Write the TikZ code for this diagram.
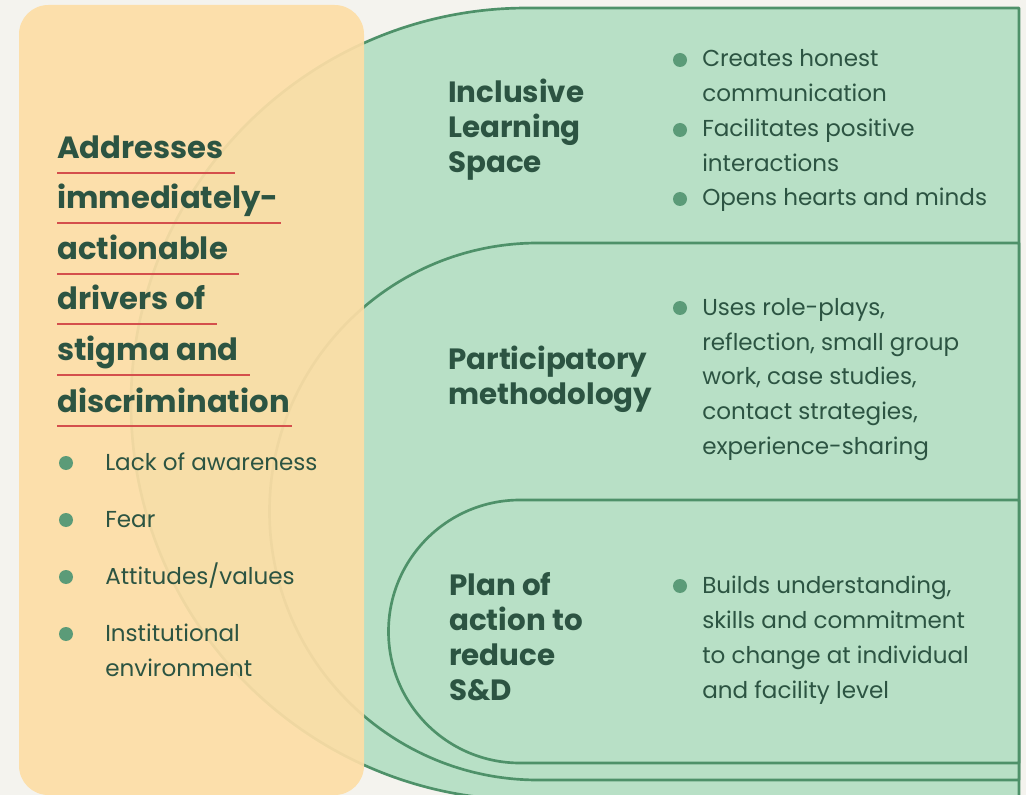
\documentclass[tikz,border=0pt]{standalone}
\usepackage{fontspec}
\setmainfont{Poppins}
\usetikzlibrary{positioning}
\definecolor{paper}{HTML}{F4F3EE}
\definecolor{sand}{HTML}{FDDEA6}
\definecolor{mint}{HTML}{B8E0C6}
\definecolor{leaf}{HTML}{4E9169}
\definecolor{leafdot}{HTML}{5B9B78}
\definecolor{pine}{HTML}{2C5442}
\definecolor{rule}{HTML}{D44F4C}

\begin{document}
\begin{tikzpicture}[x=0.75pt, y=-0.75pt,
  band/.style={fill=mint, draw=leaf, line width=2pt, line join=round},
  title/.style={font=\fontsize{23}{38}\selectfont\bfseries, text=pine, inner sep=0pt, anchor=base west},
  head/.style={font=\fontsize{22}{26.25}\selectfont\bfseries, text=pine, inner sep=0pt, anchor=base west, align=left},
  item/.style={font=\fontsize{17.3}{26.25}\selectfont, text=pine, inner sep=0pt, anchor=base west, align=left},
  dot/.style={circle, fill=leafdot, inner sep=0pt, minimum size=10.5pt},
  uline/.style={draw=rule, line width=1pt}]

  % --- page ---
  \fill[paper] (0,0) rectangle (1026,795);
  \useasboundingbox (0,0) rectangle (1026,795);

  % --- nested bands, round on the left, square on the right ---
  \filldraw[band] (1019,8) -- (527,8) arc[start angle=270, end angle=90, radius=396]
    -- (1019,800) -- cycle;
  \filldraw[band] (1019,243) -- (538,243) arc[start angle=270, end angle=90, radius=268.5]
    -- (1019,780) -- cycle;
  \filldraw[band] (1019,500) -- (520,500) arc[start angle=270, end angle=90, radius=131.5]
    -- (1019,763) -- cycle;

  % --- drivers panel on top (slightly see-through) ---
  \fill[sand, fill opacity=0.92, rounded corners=22pt] (19,5) rectangle (364,795);

  % title, one underlined line at a time
  \foreach \i/\txt/\yb/\tail in {1/Addresses/159/11, 2/immediately-/209/2,
      3/actionable/260/11, 4/drivers of/310/11, 5/stigma and/361/11,
      6/discrimination/412/2} {
    \node[title] (t\i) at (57,\yb) {\txt};
    \draw[uline] ([yshift=-10.5pt]t\i.base west) -- ([xshift=\tail*0.75pt, yshift=-10.5pt]t\i.base east);
  }

  % drivers (\yb = first baseline, \nl = number of lines; 35 per line)
  \foreach \i/\yb/\nl/\txt in {1/470/1/{Lack of awareness}, 2/527/1/{Fear},
      3/584/1/{Attitudes/values}, 4/641/2/{Institutional\\environment}} {
    \node[dot] (kd\i) at (66,\yb-7) {};
    \node[item] (k\i) at (105,\yb+35*\nl-35) {\txt};
  }

  % ===================== bands: headings =====================
  % anchored on the last line
  \node[head] (s1) at (448,173) {Inclusive\\Learning\\Space};
  \node[head] (s2) at (448,404) {Participatory\\methodology};
  \node[head] (s3) at (449,700) {Plan of\\action to\\reduce\\S\&D};

  % ===================== bands: bullet points =====================
  \foreach \n/\yb/\nl/\txt in {a1/67/2/{Creates honest\\communication},
      a2/137/2/{Facilitates positive\\interactions},
      a3/206/1/{Opens hearts and minds},
      b1/315/5/{Uses role-plays,\\reflection, small group\\work, case studies,\\contact strategies,\\experience-sharing},
      c1/593/4/{Builds understanding,\\skills and commitment\\to change at individual\\and facility level}} {
    \node[dot] (\n d) at (680,\yb-7) {};
    \node[item] (\n) at (702,\yb+35*\nl-35) {\txt};
  }

\end{tikzpicture}
\end{document}
